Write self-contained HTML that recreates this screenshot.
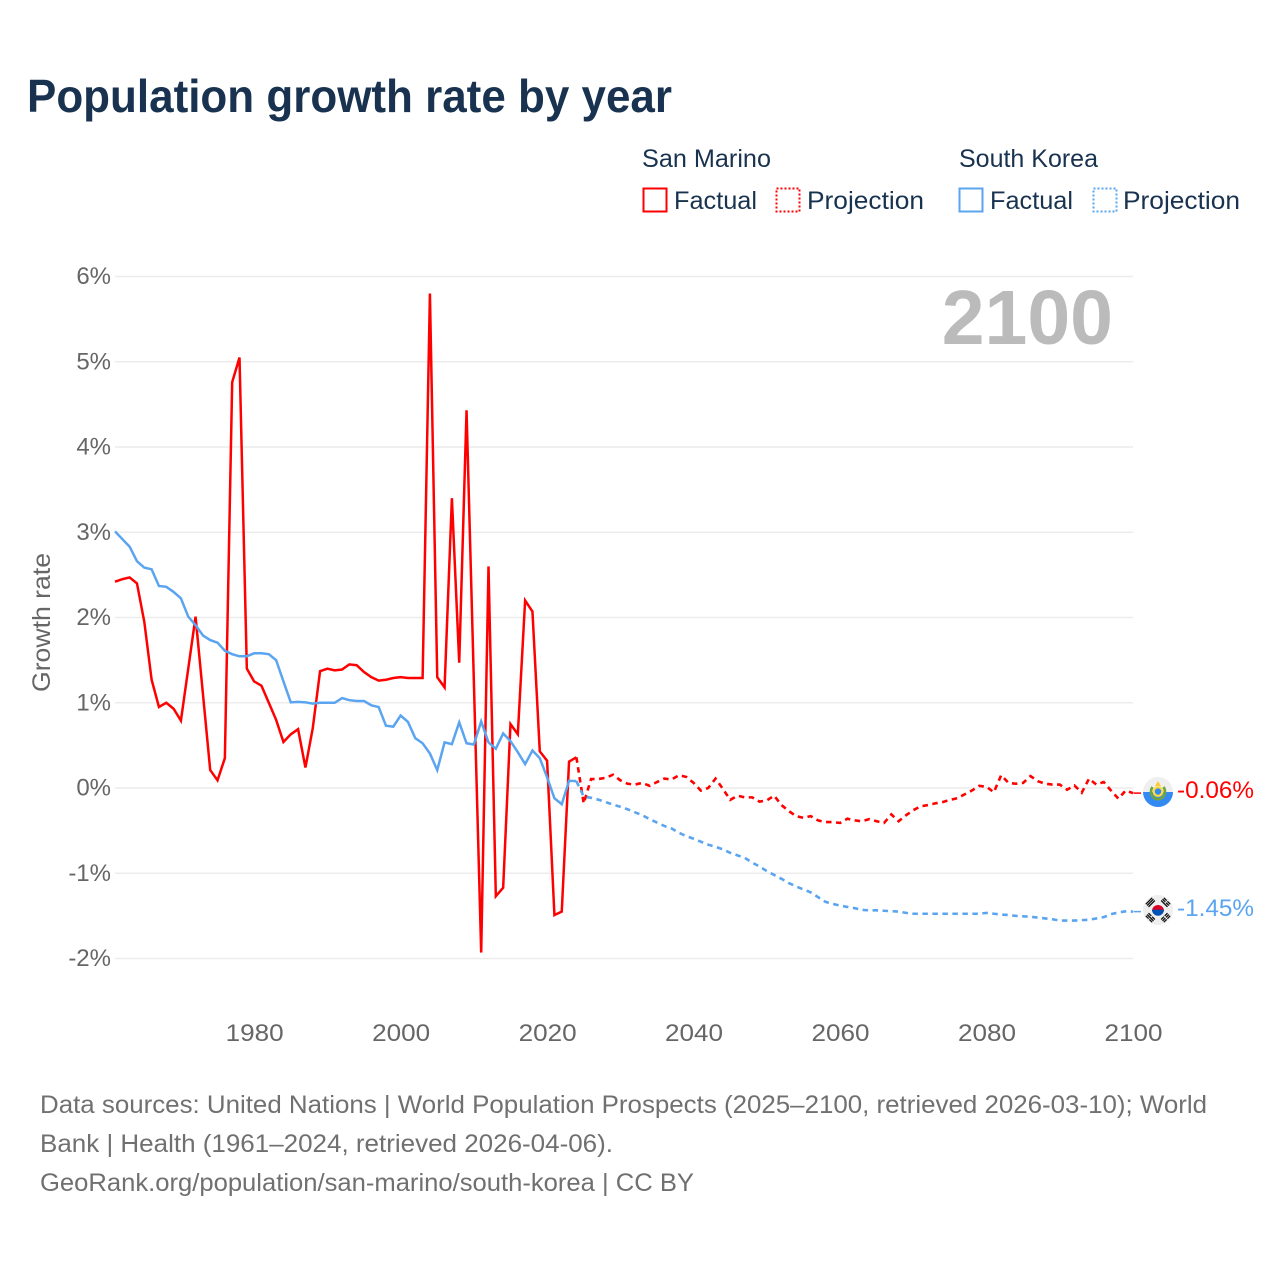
<!DOCTYPE html>
<html lang="en">
<head>
<meta charset="utf-8">
<title>Population growth rate by year</title>
<style>
html,body{margin:0;padding:0;background:#fff;}
svg{display:block;}
text{font-family:"Liberation Sans",sans-serif;}
</style>
</head>
<body>
<svg id="chart" xmlns="http://www.w3.org/2000/svg" width="1280" height="1280" viewBox="0 0 1280 1280">
  <rect x="0" y="0" width="1280" height="1280" fill="#ffffff"/>
  <text x="27" y="112" font-size="46" font-weight="700" fill="#18324f" textLength="645" lengthAdjust="spacingAndGlyphs">Population growth rate by year</text>

  <g font-size="25" fill="#18324f">
    <text x="642" y="167" textLength="129" lengthAdjust="spacingAndGlyphs">San Marino</text>
    <text x="959" y="167" textLength="139" lengthAdjust="spacingAndGlyphs">South Korea</text>
    <rect x="643.5" y="188.5" width="23" height="23" fill="none" stroke="#ff0000" stroke-width="2"/>
    <text x="674" y="209" textLength="83" lengthAdjust="spacingAndGlyphs">Factual</text>
    <rect x="776.5" y="188.5" width="23" height="23" fill="none" stroke="#ff0000" stroke-width="2" stroke-dasharray="2 2"/>
    <text x="807" y="209" textLength="117" lengthAdjust="spacingAndGlyphs">Projection</text>
    <rect x="959.5" y="188.5" width="23" height="23" fill="none" stroke="#5ba4f0" stroke-width="2"/>
    <text x="990" y="209" textLength="83" lengthAdjust="spacingAndGlyphs">Factual</text>
    <rect x="1093.5" y="188.5" width="23" height="23" fill="none" stroke="#5ba4f0" stroke-width="2" stroke-dasharray="2 2"/>
    <text x="1123" y="209" textLength="117" lengthAdjust="spacingAndGlyphs">Projection</text>
  </g>

  <g id="grid"></g>
  <g id="yticks" font-size="24" fill="#666666" text-anchor="end"></g>
  <g id="xticks" font-size="24" fill="#666666" text-anchor="middle"></g>
  <text transform="translate(50,692) rotate(-90)" font-size="25" fill="#666666" textLength="139" lengthAdjust="spacingAndGlyphs">Growth rate</text>
  <text x="1113" y="344" font-size="77" font-weight="700" fill="#bbbbbb" text-anchor="end">2100</text>
  <g id="series"></g>

  <g>
    <circle cx="1158" cy="792" r="15" fill="#efefef"/>
    <path d="M1143 792 H1173 A15 15 0 0 1 1143 792 Z" fill="#338af3"/>
    <path d="M1158 781 L1161 786 L1155 786 Z" fill="#ffc93a"/>
    <path d="M1152.5 787 A7 7.5 0 1 0 1163.5 787" fill="none" stroke="#6da544" stroke-width="2.6"/>
    <circle cx="1158" cy="791.5" r="5.4" fill="#ffda44"/>
    <circle cx="1158" cy="791.5" r="3.2" fill="#338af3"/>
  </g>
  <g>
    <circle cx="1158" cy="910" r="15" fill="#efefef"/>
    <path d="M1152 911 A6 6 0 0 1 1164 911 Z" fill="#d80027"/>
    <path d="M1152 909.8 A6 6 0 0 0 1164 909.8 Z" fill="#0052b4"/>
    <g fill="#111111">
      <g transform="translate(1158 910) rotate(-45)"><rect x="-4.5" y="-11.5" width="9" height="1.3"/><rect x="-4.5" y="-9.6" width="9" height="1.3"/><rect x="-4.5" y="-13.4" width="9" height="1.3"/></g>
      <g transform="translate(1158 910) rotate(45)"><rect x="-4.5" y="-11.5" width="4" height="1.3"/><rect x="0.5" y="-11.5" width="4" height="1.3"/><rect x="-4.5" y="-9.6" width="9" height="1.3"/><rect x="-4.5" y="-13.4" width="4" height="1.3"/><rect x="0.5" y="-13.4" width="4" height="1.3"/></g>
      <g transform="translate(1158 910) rotate(135)"><rect x="-4.5" y="-11.5" width="4" height="1.3"/><rect x="0.5" y="-11.5" width="4" height="1.3"/><rect x="-4.5" y="-9.6" width="4" height="1.3"/><rect x="0.5" y="-9.6" width="4" height="1.3"/><rect x="-4.5" y="-13.4" width="4" height="1.3"/><rect x="0.5" y="-13.4" width="4" height="1.3"/></g>
      <g transform="translate(1158 910) rotate(225)"><rect x="-4.5" y="-11.5" width="9" height="1.3"/><rect x="-4.5" y="-9.6" width="4" height="1.3"/><rect x="0.5" y="-9.6" width="4" height="1.3"/><rect x="-4.5" y="-13.4" width="4" height="1.3"/><rect x="0.5" y="-13.4" width="4" height="1.3"/></g>
    </g>
  </g>

  <text id="label-sm" x="1177" y="798" font-size="24" fill="#ff0000" textLength="77" lengthAdjust="spacingAndGlyphs"></text>
  <text id="label-kr" x="1177" y="916" font-size="24" fill="#5ba4f0" textLength="77" lengthAdjust="spacingAndGlyphs"></text>

  <g font-size="25" fill="#707070">
    <text x="40" y="1113" textLength="1167" lengthAdjust="spacingAndGlyphs">Data sources: United Nations | World Population Prospects (2025–2100, retrieved 2026-03-10); World</text>
    <text x="40" y="1152" textLength="573" lengthAdjust="spacingAndGlyphs">Bank | Health (1961–2024, retrieved 2026-04-06).</text>
    <text x="40" y="1191" textLength="654" lengthAdjust="spacingAndGlyphs">GeoRank.org/population/san-marino/south-korea | CC BY</text>
  </g>
</svg>
<script>
const firstYear = 1961;
const lastYear = 2100;
const xTickYears = [1980, 2000, 2020, 2040, 2060, 2080, 2100];
const yTickValues = [-2, -1, 0, 1, 2, 3, 4, 5, 6];
const yTickLabels = ['-2%', '-1%', '0%', '1%', '2%', '3%', '4%', '5%', '6%'];
// Growth rate (%) for 1961–2024
const sanMarinoFactual = [2.42,2.45,2.47,2.40,1.95,1.27,0.95,1.00,0.93,0.79,
  1.40,2.01,1.11,0.21,0.09,0.35,4.76,5.05,1.40,1.25,
  1.20,1.00,0.80,0.54,0.63,0.69,0.24,0.70,1.37,1.40,
  1.38,1.39,1.45,1.44,1.36,1.30,1.26,1.27,1.29,1.30,
  1.29,1.29,1.29,5.80,1.30,1.18,3.40,1.47,4.43,1.25,
  -1.93,2.60,-1.27,-1.17,0.75,0.63,2.20,2.07,0.43,0.32,
  -1.49,-1.45,0.31,0.36];
const southKoreaFactual = [3.01,2.92,2.83,2.66,2.585,2.565,2.37,2.36,2.30,2.225,
  2.01,1.91,1.79,1.735,1.705,1.61,1.57,1.545,1.545,1.58,
  1.58,1.57,1.50,1.25,1.005,1.01,1.005,0.99,1.00,1.00,
  1.00,1.055,1.03,1.02,1.02,0.97,0.95,0.73,0.72,0.85,
  0.775,0.585,0.525,0.405,0.21,0.535,0.515,0.77,0.525,0.51,
  0.78,0.535,0.46,0.64,0.55,0.42,0.28,0.44,0.35,0.125,
  -0.12,-0.19,0.085,0.08];
// Growth rate (%) for 2025–2100
const sanMarinoProjection = [-0.18,0.105,0.105,0.12,0.156,
  0.09,0.05,0.04,0.06,0.025,0.07,0.11,0.10,0.15,0.13,
  0.06,-0.03,0,0.11,-0.01,-0.14,-0.09,-0.11,-0.11,-0.16,
  -0.145,-0.09,-0.2,-0.27,-0.33,-0.35,-0.33,-0.38,-0.40,-0.40,
  -0.41,-0.36,-0.38,-0.39,-0.365,-0.39,-0.41,-0.31,-0.39,-0.32,
  -0.26,-0.215,-0.20,-0.18,-0.165,-0.14,-0.12,-0.075,-0.03,0.025,
  0.015,-0.05,0.15,0.06,0.05,0.06,0.14,0.08,0.05,0.04,
  0.04,-0.02,0.03,-0.055,0.11,0.04,0.07,-0.03,-0.125,-0.03,
  -0.06];
const southKoreaProjection = [-0.10,-0.115,-0.137,-0.165,-0.195,
  -0.22,-0.25,-0.285,-0.32,-0.365,-0.405,-0.445,-0.475,-0.525,-0.565,
  -0.595,-0.63,-0.665,-0.69,-0.72,-0.76,-0.79,-0.82,-0.875,-0.92,
  -0.975,-1.02,-1.065,-1.115,-1.155,-1.19,-1.225,-1.28,-1.335,-1.36,
  -1.38,-1.395,-1.41,-1.43,-1.435,-1.435,-1.44,-1.445,-1.45,-1.465,
  -1.475,-1.475,-1.475,-1.475,-1.475,-1.475,-1.475,-1.475,-1.475,-1.475,
  -1.465,-1.475,-1.485,-1.49,-1.50,-1.505,-1.51,-1.52,-1.53,-1.54,
  -1.555,-1.555,-1.555,-1.55,-1.545,-1.53,-1.515,-1.48,-1.46,-1.447,
  -1.45];
const sanMarinoEndLabel = '-0.06%';
const southKoreaEndLabel = '-1.45%';

const NS = 'http://www.w3.org/2000/svg';
const plotLeft = 115, plotRight = 1133, zeroY = 788, pxPerPercent = 85.25;
function xScale(year) { return plotLeft + (year - firstYear) * (plotRight - plotLeft) / (lastYear - firstYear); }
function yScale(value) { return zeroY - value * pxPerPercent; }

const gridGroup = document.getElementById('grid');
const yTickGroup = document.getElementById('yticks');
const xTickGroup = document.getElementById('xticks');
const seriesGroup = document.getElementById('series');

yTickValues.forEach(function (v, i) {
  const line = document.createElementNS(NS, 'line');
  
  
  line.setAttribute('x1', plotLeft);
  line.setAttribute('x2', plotRight);
  line.setAttribute('y1', yScale(v));
  line.setAttribute('y2', yScale(v));
  line.setAttribute('stroke', '#ececec');
  line.setAttribute('stroke-width', '1.5');
  gridGroup.appendChild(line);
  const t = document.createElementNS(NS, 'text');
  
  
  t.setAttribute('x', 111);
  t.setAttribute('y', yScale(v) + 7.5);
  t.textContent = yTickLabels[i];
  yTickGroup.appendChild(t);
});

xTickYears.forEach(function (yr) {
  const t = document.createElementNS(NS, 'text');
  
  
  t.setAttribute('x', xScale(yr) + 0.5);
  t.setAttribute('y', 1041);
  t.setAttribute('textLength', 58);
  t.setAttribute('lengthAdjust', 'spacingAndGlyphs');
  t.textContent = String(yr);
  xTickGroup.appendChild(t);
});

function linePath(values, startYear) {
  return values.map(function (v, i) {
    return (i ? 'L' : 'M') + xScale(startYear + i).toFixed(2) + ' ' + yScale(v).toFixed(2);
  }).join(' ');
}

function drawSeries(name, factual, projection, color) {
  const factualPath = document.createElementNS(NS, 'path');
  
  
  factualPath.setAttribute('d', linePath(factual, firstYear));
  factualPath.setAttribute('fill', 'none');
  factualPath.setAttribute('stroke', color);
  factualPath.setAttribute('stroke-width', '2.5');
  factualPath.setAttribute('stroke-linejoin', 'miter');
  seriesGroup.appendChild(factualPath);

  const joined = [factual[factual.length - 1]].concat(projection);
  const projPath = document.createElementNS(NS, 'path');
  
  
  projPath.setAttribute('d', linePath(joined, firstYear + factual.length - 1));
  projPath.setAttribute('fill', 'none');
  projPath.setAttribute('stroke', color);
  projPath.setAttribute('stroke-width', '2.6');
  projPath.setAttribute('stroke-dasharray', '5.5 4.5');
  seriesGroup.appendChild(projPath);

  const lastY = yScale(projection[projection.length - 1]);
  const leader = document.createElementNS(NS, 'line');
  
  
  leader.setAttribute('x1', plotRight + 0.5);
  leader.setAttribute('x2', plotRight + 8);
  leader.setAttribute('y1', lastY);
  leader.setAttribute('y2', lastY);
  leader.setAttribute('stroke', color);
  leader.setAttribute('stroke-width', '1.5');
  seriesGroup.appendChild(leader);
}

drawSeries('san-marino', sanMarinoFactual, sanMarinoProjection, '#ff0000');
drawSeries('south-korea', southKoreaFactual, southKoreaProjection, '#5ba4f0');

document.getElementById('label-sm').textContent = sanMarinoEndLabel;
document.getElementById('label-kr').textContent = southKoreaEndLabel;
</script>
</body>
</html>
